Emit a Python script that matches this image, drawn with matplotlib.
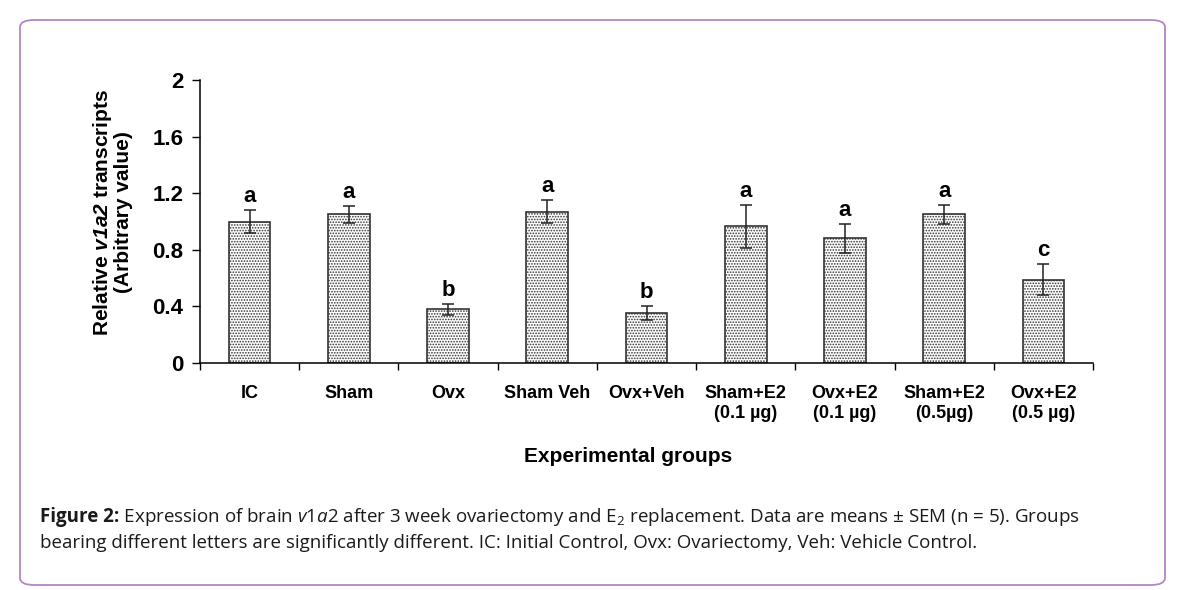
import matplotlib.pyplot as plt
from matplotlib.patches import FancyBboxPatch

groups = ['IC', 'Sham', 'Ovx', 'Sham Veh', 'Ovx+Veh',
          'Sham+E2\n(0.1 µg)', 'Ovx+E2\n(0.1 µg)', 'Sham+E2\n(0.5µg)', 'Ovx+E2\n(0.5 µg)']
means = [1.00, 1.05, 0.38, 1.07, 0.355, 0.965, 0.88, 1.05, 0.59]
sem = [0.08, 0.06, 0.04, 0.08, 0.05, 0.155, 0.10, 0.07, 0.11]
letters = ['a', 'a', 'b', 'a', 'b', 'a', 'a', 'a', 'c']

plt.rcParams['font.family'] = 'Liberation Sans'
plt.rcParams['mathtext.fontset'] = 'custom'
plt.rcParams['mathtext.rm'] = 'Open Sans'
plt.rcParams['mathtext.it'] = 'Open Sans:italic'
plt.rcParams['mathtext.bf'] = 'Open Sans:bold'
plt.rcParams['mathtext.bfit'] = 'Liberation Sans:italic:bold'
plt.rcParams['hatch.color'] = '#555555'
plt.rcParams['hatch.linewidth'] = 0.8

fig = plt.figure(figsize=(11.83, 5.90), dpi=100)

# rounded frame around figure + caption
frame = FancyBboxPatch((20 / 1183, 1 - 585 / 590), 1145 / 1183, 565 / 590,
                       boxstyle='round,pad=0,rounding_size=0.012',
                       transform=fig.transFigure, facecolor='none',
                       edgecolor='#b584c4', linewidth=1.3)
fig.patches.append(frame)

ax = fig.add_axes([200 / 1183, 1 - 363 / 590, 893 / 1183, 283 / 590])
x = range(len(groups))
ax.bar(x, means, width=0.42, color='white', edgecolor='#333333',
       linewidth=1.2, hatch='......', zorder=2)
ax.errorbar(x, means, yerr=sem, fmt='none', ecolor='#222222',
            elinewidth=1.1, capsize=4, capthick=1.1, zorder=3)
for xi, m, s, l in zip(x, means, sem, letters):
    ax.text(xi, m + s + 0.02, l, ha='center', va='bottom',
            fontsize=16, fontweight='bold')

ax.set_xlim(-0.5, len(groups) - 0.5)
ax.set_ylim(0, 2)
ax.set_yticks([0, 0.4, 0.8, 1.2, 1.6, 2])
ax.set_yticklabels(['0', '0.4', '0.8', '1.2', '1.6', '2'],
                   fontsize=16, fontweight='bold')
ax.set_xticks([i - 0.5 for i in range(len(groups) + 1)])
ax.set_xticklabels([])
ax.set_xticks(list(x), minor=True)
ax.set_xticklabels(groups, minor=True, fontsize=13, fontweight='bold',
                   linespacing=1.25)
ax.tick_params(axis='x', which='minor', length=0, pad=16)
ax.tick_params(axis='x', which='major', length=5, width=1, direction='out')
ax.tick_params(axis='y', length=6, width=1, pad=6)
for sp in ['top', 'right']:
    ax.spines[sp].set_visible(False)
for sp in ['left', 'bottom']:
    ax.spines[sp].set_linewidth(1.1)

ax.set_xlabel('Experimental groups', fontsize=15, fontweight='bold')
ax.xaxis.set_label_coords((628 - 200) / 893, -(457 - 363) / 283)
ax.xaxis.label.set_va('center')
ax.set_ylabel('Relative $\\mathbfit{v1a2}$ transcripts\n(Arbitrary value)',
              fontsize=15, fontweight='bold', linespacing=1.0)
ax.yaxis.set_label_coords(-(200 - 112) / 893, (363 - 212) / 283)
ax.yaxis.label.set_va('center')

t1 = fig.text(40 / 1183, 1 - 517 / 590, 'Figure 2:', fontsize=13.5,
              family='Open Sans', fontweight='bold', va='center', color='#1a1a1a')
ax.annotate(r' Expression of brain $\mathit{v1a2}$ after 3 week '
            r'ovariectomy and E$_2$ replacement. Data are means ± SEM (n = 5). Groups',
            xy=(1, 0.5), xycoords=t1, va='center', ha='left',
            fontsize=13.5, family='Open Sans', color='#1a1a1a',
            annotation_clip=False)
fig.text(40 / 1183, 1 - 543 / 590,
         'bearing different letters are significantly different. IC: Initial Control, '
         'Ovx: Ovariectomy, Veh: Vehicle Control.',
         fontsize=13.5, family='Open Sans', va='center', color='#1a1a1a')

fig.savefig('out.png', dpi=100)
